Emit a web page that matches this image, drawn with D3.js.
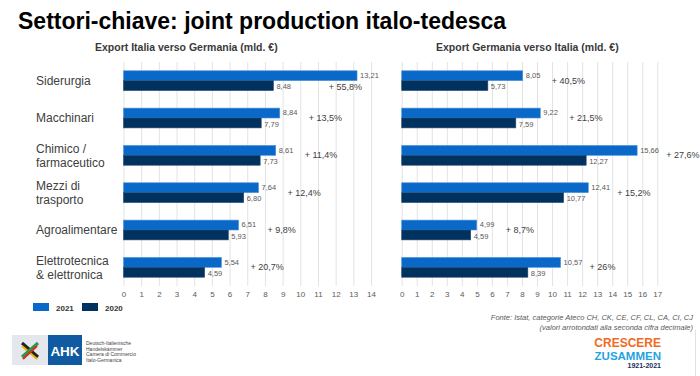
<!DOCTYPE html>
<html>
<head>
<meta charset="utf-8">
<script src="https://cdn.jsdelivr.net/npm/d3@7"></script>
<style>
  body { margin: 0; background: #fff; }
  svg { display: block; font-family: "Liberation Sans", Arial, sans-serif; }
  .grid line { stroke: #e3e3e3; stroke-width: 1; }
  .grid path { display: none; }
  .ticks path { display: none; }
  .ticks text { font-size: 8px; fill: #595959; }
</style>
</head>
<body>
<div id="chart"></div>
<script>
// Settori-chiave: export Italia <-> Germania, 2021 vs 2020

var categories = ["Siderurgia", "Macchinari", "Chimico /\nfarmaceutico", "Mezzi di\ntrasporto",
                  "Agroalimentare", "Elettrotecnica\n& elettronica"];
var years = ["2021", "2020"];

var itaDe2021 = [13.21, 8.84, 8.61, 7.64, 6.51, 5.54];
var itaDe2020 = [8.48, 7.79, 7.73, 6.80, 5.93, 4.59];
var itaDeGrowth = ["+ 55,8%", "+ 13,5%", "+ 11,4%", "+ 12,4%", "+ 9,8%", "+ 20,7%"];

var deIta2021 = [8.05, 9.22, 15.66, 12.41, 4.99, 10.57];
var deIta2020 = [5.73, 7.59, 12.27, 10.77, 4.59, 8.39];
var deItaGrowth = ["+ 40,5%", "+ 21,5%", "+ 27,6%", "+ 15,2%", "+ 8,7%", "+ 26%"];

var itaDeTicks = d3.range(0, 15);
var deItaTicks = d3.range(0, 18);

var WIDTH = 700;
var HEIGHT = 376;
var TOP = 62;
var BOTTOM = 286;

var COLORS = { "2021": "#0a68c8", "2020": "#00325f" };

var fmt = function(v) { return d3.format(".2f")(v).replace(".", ","); };

var svg = d3.select("#chart").append("svg")
    .attr("width", WIDTH)
    .attr("height", HEIGHT);

// title
svg.append("text")
    .attr("x", 18).attr("y", 29)
    .attr("font-size", 23).attr("font-weight", "bold").attr("fill", "#000")
    .text("Settori-chiave: joint production italo-tedesca");

var y = d3.scaleBand()
    .domain(d3.range(categories.length))
    .range([TOP, BOTTOM])
    .paddingInner(0.47)
    .paddingOuter(0.235);

var ySub = d3.scaleBand()
    .domain(years)
    .range([0, y.bandwidth()]);

// category labels
categories.forEach(function(c, i) {
    var lines = c.split("\n");
    var cy = y(i) + y.bandwidth() / 2;
    var t = svg.append("text")
        .attr("x", 36)
        .attr("y", lines.length == 1 ? cy + 4 : cy - 2.5)
        .attr("font-size", 12)
        .attr("fill", "#404040");
    lines.forEach(function(l, k) {
        t.append("tspan").attr("x", 36).attr("dy", k == 0 ? 0 : 14).text(l);
    });
});

function panel(opts) {
    var x = d3.scaleLinear()
        .domain([0, d3.max(opts.ticks)])
        .range(opts.range);

    var g = svg.append("g");

    g.append("text")
        .attr("x", opts.titleX).attr("y", 51)
        .attr("font-size", 10.5).attr("font-weight", "bold").attr("fill", "#3a3a3a")
        .text(opts.title);

    g.append("g")
        .attr("class", "grid")
        .attr("transform", "translate(0," + BOTTOM + ")")
        .call(d3.axisBottom(x).tickValues(opts.ticks).tickSize(-(BOTTOM - TOP)).tickFormat(""));

    g.append("g")
        .attr("class", "ticks")
        .attr("transform", "translate(0," + BOTTOM + ")")
        .call(d3.axisBottom(x).tickValues(opts.ticks).tickSize(0).tickPadding(5));

    var rows = categories.map(function(c, i) {
        return { i: i, v21: opts.v2021[i], v20: opts.v2020[i], growth: opts.growth[i] };
    });

    var groups = g.selectAll("g.row")
        .data(rows)
        .enter()
        .append("g")
        .attr("class", "row")
        .attr("transform", function(d) { return "translate(0," + y(d.i) + ")"; });

    years.forEach(function(yr) {
        var key = yr == "2021" ? "v21" : "v20";
        groups.append("rect")
            .attr("x", x(0))
            .attr("y", ySub(yr))
            .attr("width", function(d) { return x(d[key]) - x(0); })
            .attr("height", ySub.bandwidth())
            .attr("fill", COLORS[yr])
            .attr("stroke", yr == "2021" ? "#4f95dc" : "#2a4a70")
            .attr("stroke-width", 0.6);

        groups.append("text")
            .attr("x", function(d) { return x(d[key]) + 3; })
            .attr("y", ySub(yr) + ySub.bandwidth() / 2 + (yr == "2021" ? -0.5 : 1))
            .attr("dy", "0.35em")
            .attr("font-size", 7.5)
            .attr("fill", "#595959")
            .text(function(d) { return fmt(d[key]); });
    });

    // growth label, moved under the bar end when there is no room on the right
    groups.append("text")
        .attr("font-size", 9)
        .attr("fill", "#404040")
        .text(function(d) { return d.growth; })
        .each(function(d) {
            var t = d3.select(this);
            var w = this.getComputedTextLength();
            var gx = x(d.v21) + 29;
            if (gx + w > opts.limit) {
                t.attr("x", x(d.v21) + 5).attr("text-anchor", "end")
                 .attr("y", y.bandwidth() / 2 + 9);
            } else {
                t.attr("x", gx).attr("y", y.bandwidth() / 2 + 3);
            }
        });
}

panel({
    title: "Export Italia verso Germania (mld. €)",
    titleX: 95,
    ticks: itaDeTicks,
    range: [123.5, 371],
    v2021: itaDe2021, v2020: itaDe2020, growth: itaDeGrowth,
    limit: 392
});

panel({
    title: "Export Germania verso Italia (mld. €)",
    titleX: 436,
    ticks: deItaTicks,
    range: [401.7, 657.3],
    v2021: deIta2021, v2020: deIta2020, growth: deItaGrowth,
    limit: 700
});

// legend
var legend = svg.append("g").selectAll("g")
    .data(years)
    .enter()
    .append("g")
    .attr("transform", function(d, i) { return "translate(" + (33 + i * 49) + ",303)"; });

legend.append("rect")
    .attr("width", 16).attr("height", 8)
    .attr("fill", function(d) { return COLORS[d]; });

legend.append("text")
    .attr("x", 23).attr("y", 7.5)
    .attr("font-size", 8).attr("font-weight", "bold").attr("fill", "#333")
    .text(function(d) { return d; });

// source note
var note = ["Fonte: Istat, categorie Ateco CH, CK, CE, CF, CL, CA, CI, CJ",
            "(valori arrotondati alla seconda cifra decimale)"];
svg.append("g").selectAll("text")
    .data(note)
    .enter()
    .append("text")
    .attr("x", 693)
    .attr("y", function(d, i) { return 319.5 + i * 10.5; })
    .attr("text-anchor", "end")
    .attr("font-size", 7.5).attr("font-style", "italic").attr("fill", "#595959")
    .text(function(d) { return d; });

// AHK logo
var ahk = svg.append("g");
ahk.append("rect").attr("x", 12).attr("y", 335).attr("width", 36).attr("height", 30).attr("fill", "#e4e8ee");
ahk.append("rect").attr("x", 48).attr("y", 335).attr("width", 34).attr("height", 30).attr("fill", "#0f5aa0");
ahk.append("text").attr("x", 65).attr("y", 355.5).attr("text-anchor", "middle")
    .attr("font-size", 13.5).attr("font-weight", "bold").attr("fill", "#fff").text("AHK");
ahk.append("path").attr("d", "M22,343 L38,357").attr("stroke", "#222").attr("stroke-width", 3);
ahk.append("path").attr("d", "M22,346 L37,359").attr("stroke", "#e8b400").attr("stroke-width", 2);
ahk.append("path").attr("d", "M38,343 L22,357").attr("stroke", "#2a9a45").attr("stroke-width", 3);
ahk.append("path").attr("d", "M37,346 L23,359").attr("stroke", "#d62b2b").attr("stroke-width", 2);
["Deutsch-Italienische", "Handelskammer", "Camera di Commercio", "Italo-Germanica"].forEach(function(l, i) {
    ahk.append("text").attr("x", 86).attr("y", 345 + i * 5.5)
        .attr("font-size", 5).attr("fill", "#444").text(l);
});

// Crescere Zusammen logo
var cz = svg.append("g").attr("font-weight", "bold").attr("text-anchor", "end");
cz.append("text").attr("x", 661).attr("y", 347).attr("font-size", 12)
    .attr("fill", "#f26a21").text("CRESCERE");
cz.append("text").attr("x", 661).attr("y", 360).attr("font-size", 11.5)
    .attr("fill", "#1fa3e0").text("ZUSAMMEN");
cz.append("text").attr("x", 661).attr("y", 367.5).attr("font-size", 7)
    .attr("fill", "#1b2d5c").text("1921-2021");

svg.append("line").attr("x1", 695.5).attr("x2", 695.5).attr("y1", 330).attr("y2", 376)
    .attr("stroke", "#e2e2e2");
</script>
</body>
</html>
